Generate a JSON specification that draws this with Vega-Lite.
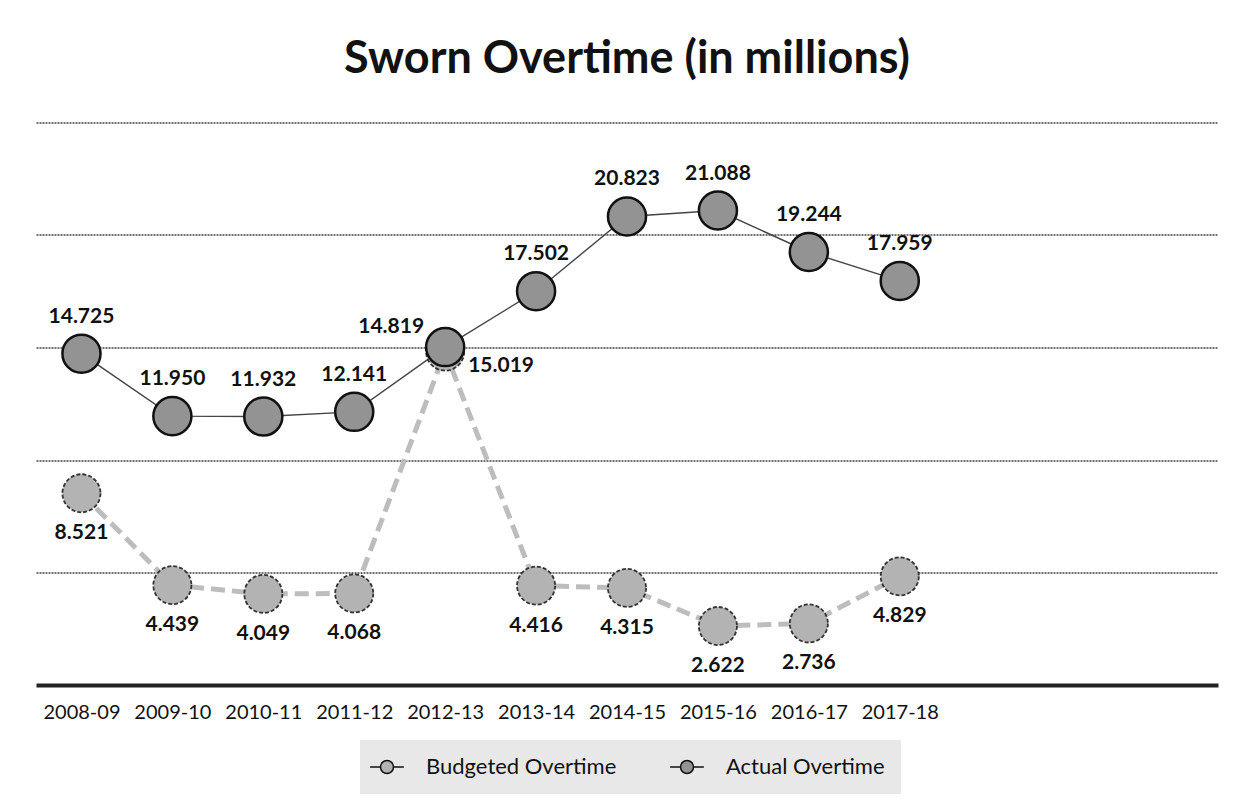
{
  "$schema": "https://vega.github.io/schema/vega-lite/v6.json",
  "autosize": "none",
  "width": 1182,
  "height": 562.5,
  "padding": {"left": 36, "top": 122.5, "right": 16, "bottom": 117},
  "background": "white",
  "title": {
    "text": "Sworn Overtime (in millions)",
    "font": "Lato",
    "fontSize": 45,
    "fontWeight": "bold",
    "color": "#111111",
    "anchor": "middle",
    "baseline": "alphabetic",
    "offset": 5
  },
  "config": {
    "view": {"stroke": null},
    "font": "Lato"
  },
  "data": {
    "values": [
      {"year": "2008-09", "series": "Budgeted Overtime", "value": 8.521},
      {"year": "2009-10", "series": "Budgeted Overtime", "value": 4.439},
      {"year": "2010-11", "series": "Budgeted Overtime", "value": 4.049},
      {"year": "2011-12", "series": "Budgeted Overtime", "value": 4.068},
      {"year": "2012-13", "series": "Budgeted Overtime", "value": 14.819},
      {"year": "2013-14", "series": "Budgeted Overtime", "value": 4.416},
      {"year": "2014-15", "series": "Budgeted Overtime", "value": 4.315},
      {"year": "2015-16", "series": "Budgeted Overtime", "value": 2.622},
      {"year": "2016-17", "series": "Budgeted Overtime", "value": 2.736},
      {"year": "2017-18", "series": "Budgeted Overtime", "value": 4.829},
      {"year": "2008-09", "series": "Actual Overtime", "value": 14.725},
      {"year": "2009-10", "series": "Actual Overtime", "value": 11.950},
      {"year": "2010-11", "series": "Actual Overtime", "value": 11.932},
      {"year": "2011-12", "series": "Actual Overtime", "value": 12.141},
      {"year": "2012-13", "series": "Actual Overtime", "value": 15.019},
      {"year": "2013-14", "series": "Actual Overtime", "value": 17.502},
      {"year": "2014-15", "series": "Actual Overtime", "value": 20.823},
      {"year": "2015-16", "series": "Actual Overtime", "value": 21.088},
      {"year": "2016-17", "series": "Actual Overtime", "value": 19.244},
      {"year": "2017-18", "series": "Actual Overtime", "value": 17.959}
    ]
  },
  "encoding": {
    "x": {
      "field": "year",
      "type": "ordinal",
      "sort": null,
      "scale": {
        "type": "point",
        "padding": 0.5,
        "domain": ["2008-09", "2009-10", "2010-11", "2011-12", "2012-13", "2013-14", "2014-15", "2015-16", "2016-17", "2017-18", " ", "  ", "   "]
      },
      "axis": {
        "title": null,
        "labelAngle": 0,
        "labelFont": "Lato",
        "labelFontSize": 20,
        "labelColor": "#111111",
        "labelPadding": 17,
        "ticks": false,
        "tickSize": 0,
        "domain": true,
        "domainColor": "#222222",
        "domainWidth": 4,
        "grid": false
      }
    },
    "y": {
      "field": "value",
      "type": "quantitative",
      "scale": {"domain": [0, 25], "nice": false},
      "axis": {
        "title": null,
        "labels": false,
        "ticks": false,
        "domain": false,
        "values": [5, 10, 15, 20, 25],
        "grid": true,
        "gridColor": "#444444",
        "gridDash": [2, 1],
        "gridWidth": 1.4
      }
    }
  },
  "layer": [
    {
      "transform": [{"filter": "datum.series === 'Budgeted Overtime'"}],
      "mark": {"type": "line", "color": "#bdbdbd", "strokeWidth": 5, "strokeDash": [14, 7]},
      "encoding": {}
    },
    {
      "transform": [{"filter": "datum.series === 'Actual Overtime'"}],
      "mark": {"type": "line", "color": "#444444", "strokeWidth": 1.4},
      "encoding": {}
    },
    {
      "transform": [{"filter": "datum.series === 'Budgeted Overtime'"}],
      "mark": {"type": "point", "filled": true, "size": 1450, "stroke": "#333333", "strokeWidth": 1.8, "strokeDash": [4, 2], "opacity": 1},
      "encoding": {
        "fill": {
          "field": "series",
          "type": "nominal",
          "scale": {"domain": ["Budgeted Overtime", "Actual Overtime"], "range": ["#b3b3b3", "#939393"]},
          "legend": {
            "title": null,
            "orient": "none",
            "legendX": 324,
            "legendY": 617.5,
            "direction": "horizontal",
            "symbolType": "M-2.6,0H-1.1M1.1,0H2.6M-1,0A1,1,0,1,1,1,0A1,1,0,1,1,-1,0Z",
            "symbolSize": 169,
            "symbolStrokeColor": "#555555",
            "symbolStrokeWidth": 1.5,
            "symbolOpacity": 1,
            "labelFont": "Lato",
            "labelFontSize": 22,
            "labelColor": "#111111",
            "labelOffset": 28,
            "columnPadding": 50,
            "padding": 16,
            "fillColor": "#e8e8e8",
            "labelLimit": 300
          }
        }
      }
    },
    {
      "transform": [{"filter": "datum.series === 'Actual Overtime'"}],
      "mark": {"type": "point", "filled": true, "size": 1450, "stroke": "#111111", "strokeWidth": 2.5, "opacity": 1},
      "encoding": {
        "fill": {"field": "series", "type": "nominal"}
      }
    },
    {
      "transform": [{"filter": "datum.series === 'Actual Overtime' && datum.year !== '2012-13'"}],
      "mark": {"type": "text", "font": "Lato", "fontSize": 21, "fontWeight": "bold", "color": "#111111", "dy": -37, "baseline": "middle"},
      "encoding": {"text": {"field": "value", "type": "quantitative", "format": ".3f"}}
    },
    {
      "transform": [{"filter": "datum.series === 'Actual Overtime' && datum.year === '2012-13'"}],
      "mark": {"type": "text", "font": "Lato", "fontSize": 21, "fontWeight": "bold", "color": "#111111", "align": "left", "dx": 23, "dy": 19, "baseline": "middle"},
      "encoding": {"text": {"field": "value", "type": "quantitative", "format": ".3f"}}
    },
    {
      "transform": [{"filter": "datum.series === 'Budgeted Overtime' && datum.year !== '2012-13'"}],
      "mark": {"type": "text", "font": "Lato", "fontSize": 21, "fontWeight": "bold", "color": "#111111", "dy": 40, "baseline": "middle"},
      "encoding": {"text": {"field": "value", "type": "quantitative", "format": ".3f"}}
    },
    {
      "transform": [{"filter": "datum.series === 'Budgeted Overtime' && datum.year === '2012-13'"}],
      "mark": {"type": "text", "font": "Lato", "fontSize": 21, "fontWeight": "bold", "color": "#111111", "align": "right", "dx": -21, "dy": -25, "baseline": "middle"},
      "encoding": {"text": {"field": "value", "type": "quantitative", "format": ".3f"}}
    }
  ]
}
